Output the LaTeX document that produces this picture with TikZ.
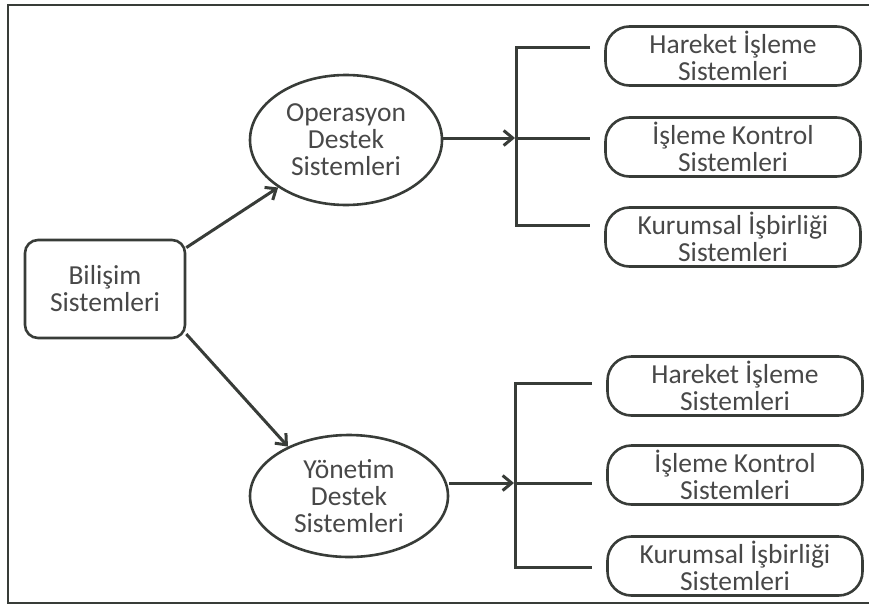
\documentclass[tikz,border=0pt]{standalone}
\usepackage{fontspec}
\setmainfont{Carlito}
\usetikzlibrary{shapes.geometric,arrows.meta}
\definecolor{inkline}{RGB}{56,60,56}
\definecolor{inktext}{RGB}{72,72,72}
\begin{document}
\begin{tikzpicture}[x=1pt,y=-1pt,
  every node/.style={text=inktext,font=\fontsize{27.5}{27}\selectfont,align=center,inner sep=0pt},
  mainbox/.style={draw=inkline,line width=2.6pt,rectangle,rounded corners=13pt,minimum width=160pt,minimum height=98pt},
  oval/.style={draw=inkline,line width=2.6pt,ellipse},
  leafbox/.style={draw=inkline,line width=2.6pt,rectangle,rounded corners=24pt,minimum width=255pt,minimum height=59pt},
  link/.style={draw=inkline,line width=3pt},
  arrowlink/.style={link,-{Straight Barb[length=9pt,width=15pt,line width=3pt]}}]
\useasboundingbox (0,0) rectangle (869,605);
% page frame (right side runs off the edge)
\draw[inkline,line width=1.8pt] (869,5) -- (8,5) -- (8,603) -- (869,603);

% root
\node[mainbox] (bil) at (105,289) {Bilişim\\Sistemleri};

% second level
\node[oval,minimum width=192pt,minimum height=130pt] (ops) at (346,140) {Operasyon\\Destek\\Sistemleri};
\node[oval,minimum width=198pt,minimum height=122pt] (yon) at (349,496) {Yönetim\\Destek\\Sistemleri};

% leaves, upper group
\node[leafbox] (u1) at (733,56) {Hareket İşleme\\Sistemleri};
\node[leafbox] (u2) at (733,147) {İşleme Kontrol\\Sistemleri};
\node[leafbox] (u3) at (733,237) {Kurumsal İşbirliği\\Sistemleri};

% leaves, lower group
\node[leafbox] (l1) at (735,386) {Hareket İşleme\\Sistemleri};
\node[leafbox] (l2) at (735,475) {İşleme Kontrol\\Sistemleri};
\node[leafbox] (l3) at (735,566) {Kurumsal İşbirliği\\Sistemleri};

% bracket points
\coordinate (ut) at (516,47);
\coordinate (um) at (516,138);
\coordinate (ub) at (516,225);
\coordinate (ut2) at (590,47);
\coordinate (um2) at (590,138);
\coordinate (ub2) at (590,225);

\coordinate (lt) at (515,383);
\coordinate (lm) at (515,483);
\coordinate (lb) at (515,567);
\coordinate (lt2) at (592,383);
\coordinate (lm2) at (592,483);
\coordinate (lb2) at (592,567);

% arrows from the root
\draw[arrowlink] (bil.27) -- (ops.215);
\draw[arrowlink] (bil.-29) -- (yon.141);

% arrows into the brackets
\draw[arrowlink] (ops.east |- um) -- ([xshift=-1pt]um);
\draw[arrowlink] (yon.east |- lm) -- ([xshift=-1pt]lm);

% brackets
\draw[link] (ut2) -- (ut) -- (ub) -- (ub2);
\draw[link] (um) -- (um2);
\draw[link] (lt2) -- (lt) -- (lb) -- (lb2);
\draw[link] (lm) -- (lm2);
\end{tikzpicture}
\end{document}
